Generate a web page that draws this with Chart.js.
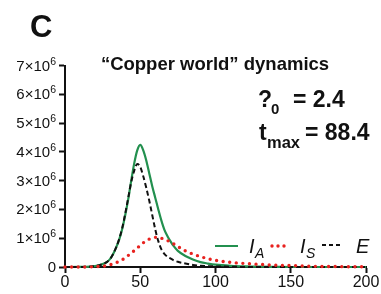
<!DOCTYPE html>
<html>
<head>
<meta charset="utf-8">
<script src="https://cdn.jsdelivr.net/npm/chart.js@4/dist/chart.umd.min.js"></script>
<style>
html,body{margin:0;padding:0;background:#fff;}
#wrap{width:381px;height:294px;position:relative;}
</style>
</head>
<body>
<div id="wrap"><canvas id="c" width="381" height="294"></canvas></div>
<script>
// Days (x values)
const days = [0,10,20,25,28,30,32,34,36,38,40,42,44,46,48,50,52,54,56,58,60,62,64,66,68,70,72,75,80,85,90,95,100,110,120,130,140,150,160,170,180,190,200];
// I_A (millions)
const seriesIA = [0,0.003,0.03,0.1,0.18,0.28,0.45,0.68,0.95,1.32,1.8,2.35,3.0,3.6,4.05,4.24,4.05,3.7,3.25,2.8,2.4,2.0,1.62,1.3,1.08,0.9,0.74,0.56,0.38,0.26,0.17,0.12,0.08,0.04,0.02,0.01,0.005,0,0,0,0,0,0];
// I_S (millions)
const seriesIS = [0,0.001,0.01,0.03,0.05,0.08,0.11,0.15,0.2,0.25,0.32,0.4,0.48,0.57,0.66,0.75,0.84,0.91,0.97,1.01,1.03,1.03,1.0,0.96,0.92,0.87,0.81,0.71,0.56,0.45,0.36,0.29,0.23,0.16,0.12,0.09,0.06,0.05,0.03,0.02,0.015,0.01,0.01];
// E (millions)
const seriesE = [0,0.003,0.03,0.1,0.18,0.28,0.45,0.68,0.97,1.35,1.85,2.4,2.95,3.35,3.58,3.48,3.15,2.75,2.3,1.8,1.3,0.9,0.62,0.46,0.36,0.3,0.24,0.18,0.12,0.07,0.04,0.03,0.02,0.01,0,0,0,0,0,0,0,0,0];
const xTicks = [0,50,100,150,200];
// y tick labels: mantissa and exponent (×10^exp), '0' for zero
const yTickMant = ['0','1','2','3','4','5','6','7'];
const yTickExp = ['', '6','6','6','6','6','6','6'];
const titleText = '“Copper world” dynamics';
const panelLabel = 'C';

const M = 1e6;
const toPts = arr => days.map((d,i)=>({x:d,y:arr[i]*M}));

const FONT = '"Liberation Sans", Arial, sans-serif';

const textPlugin = {
  id:'texts',
  afterDraw(chart){
    const ctx = chart.ctx;
    ctx.save();
    ctx.fillStyle = '#111';
    ctx.textBaseline = 'alphabetic';
    // y tick labels with superscripts
    const ys = chart.scales.y;
    const rightX = 56;
    yTickMant.forEach((m,i)=>{
      const py = ys.getPixelForValue(i*M);
      const base = py + 5;
      ctx.textAlign = 'left';
      if (yTickExp[i] === '') {
        ctx.font = '15px ' + FONT;
        const w = ctx.measureText(m).width;
        ctx.fillText(m, rightX - w, base);
      } else {
        ctx.font = '10.5px ' + FONT;
        const we = ctx.measureText(yTickExp[i]).width;
        ctx.font = '15px ' + FONT;
        const main = m + '×10';
        const wm = ctx.measureText(main).width;
        const x0 = rightX - we - wm;
        ctx.fillText(main, x0, base);
        ctx.font = '10.5px ' + FONT;
        ctx.fillText(yTickExp[i], x0 + wm, base - 6);
      }
    });
    // Panel label
    ctx.font = 'bold 31px ' + FONT;
    ctx.textAlign = 'left';
    ctx.fillText(panelLabel, 30, 37);
    // Title
    ctx.font = 'bold 18.5px ' + FONT;
    ctx.textAlign = 'center';
    ctx.fillText(titleText, 215, 70);
    // Annotations
    ctx.textAlign = 'left';
    ctx.font = 'bold 23px ' + FONT;
    ctx.fillText('?', 258, 107);
    ctx.font = 'bold 15px ' + FONT;
    ctx.fillText('0', 271, 114);
    ctx.font = 'bold 23px ' + FONT;
    ctx.fillText('= 2.4', 293, 107);
    ctx.fillText('t', 259, 140);
    ctx.font = 'bold 16.5px ' + FONT;
    ctx.fillText('max', 267, 148);
    ctx.font = 'bold 23px ' + FONT;
    ctx.fillText('= 88.4', 305, 140);
    // Legend
    const ly = 246;
    ctx.lineWidth = 2;
    ctx.strokeStyle = '#23904f';
    ctx.beginPath(); ctx.moveTo(215, ly); ctx.lineTo(238, ly); ctx.stroke();
    ctx.font = 'italic 20px ' + FONT;
    ctx.fillText('I', 249, 253);
    ctx.font = 'italic 14px ' + FONT;
    ctx.fillText('A', 255, 258);
    ctx.fillStyle = '#e8221f';
    [272,278,284].forEach(x=>{ctx.beginPath();ctx.arc(x,ly,1.7,0,Math.PI*2);ctx.fill();});
    ctx.fillStyle = '#111';
    ctx.font = 'italic 20px ' + FONT;
    ctx.fillText('I', 300, 253);
    ctx.font = 'italic 14px ' + FONT;
    ctx.fillText('S', 306, 258);
    ctx.strokeStyle = '#111';
    ctx.lineWidth = 2;
    ctx.setLineDash([4,3]);
    ctx.beginPath(); ctx.moveTo(322, ly-1); ctx.lineTo(343, ly-1); ctx.stroke();
    ctx.setLineDash([]);
    ctx.font = 'italic 20px ' + FONT;
    ctx.fillText('E', 356, 253);
    ctx.restore();
  }
};

new Chart(document.getElementById('c'), {
  type:'line',
  data:{
    datasets:[
      {label:'I_S', data:toPts(seriesIS), borderColor:'#e8221f', borderWidth:3.4, borderDash:[0,6.6], borderCapStyle:'round', pointRadius:0, cubicInterpolationMode:'monotone', fill:false, order:0, clip:6},
      {label:'E', data:toPts(seriesE), borderColor:'#111', borderWidth:2, borderDash:[5,3], pointRadius:0, cubicInterpolationMode:'monotone', fill:false, order:1, clip:6},
      {label:'I_A', data:toPts(seriesIA), borderColor:'#23904f', borderWidth:2.2, pointRadius:0, cubicInterpolationMode:'monotone', fill:false, order:2, clip:6}
    ]
  },
  options:{
    responsive:false,
    animation:false,
    devicePixelRatio:1,
    layout:{padding:{top:65.5,right:15,left:0,bottom:0}},
    plugins:{legend:{display:false},tooltip:{enabled:false},title:{display:false}},
    scales:{
      x:{
        type:'linear', min:0, max:200,
        afterBuildTicks(s){ s.ticks = xTicks.map(v=>({value:v})); },
        afterFit(s){ s.height = 27; },
        ticks:{color:'#111', font:{family:'Liberation Sans', size:16}, padding:0, maxRotation:0},
        grid:{drawOnChartArea:false, tickLength:6, tickColor:'#111', tickWidth:2},
        border:{color:'#111', width:2}
      },
      y:{
        min:0, max:7*M,
        afterBuildTicks(s){ s.ticks = yTickMant.map((_,i)=>({value:i*M})); },
        afterFit(s){ s.width = 65; },
        ticks:{color:'rgba(0,0,0,0)', font:{family:'Liberation Sans', size:14}, padding:1, callback:(v,i)=>yTickMant[i]},
        grid:{drawOnChartArea:false, tickLength:6, tickColor:'#111', tickWidth:2},
        border:{color:'#111', width:2}
      }
    }
  },
  plugins:[textPlugin]
});
</script>
</body>
</html>
